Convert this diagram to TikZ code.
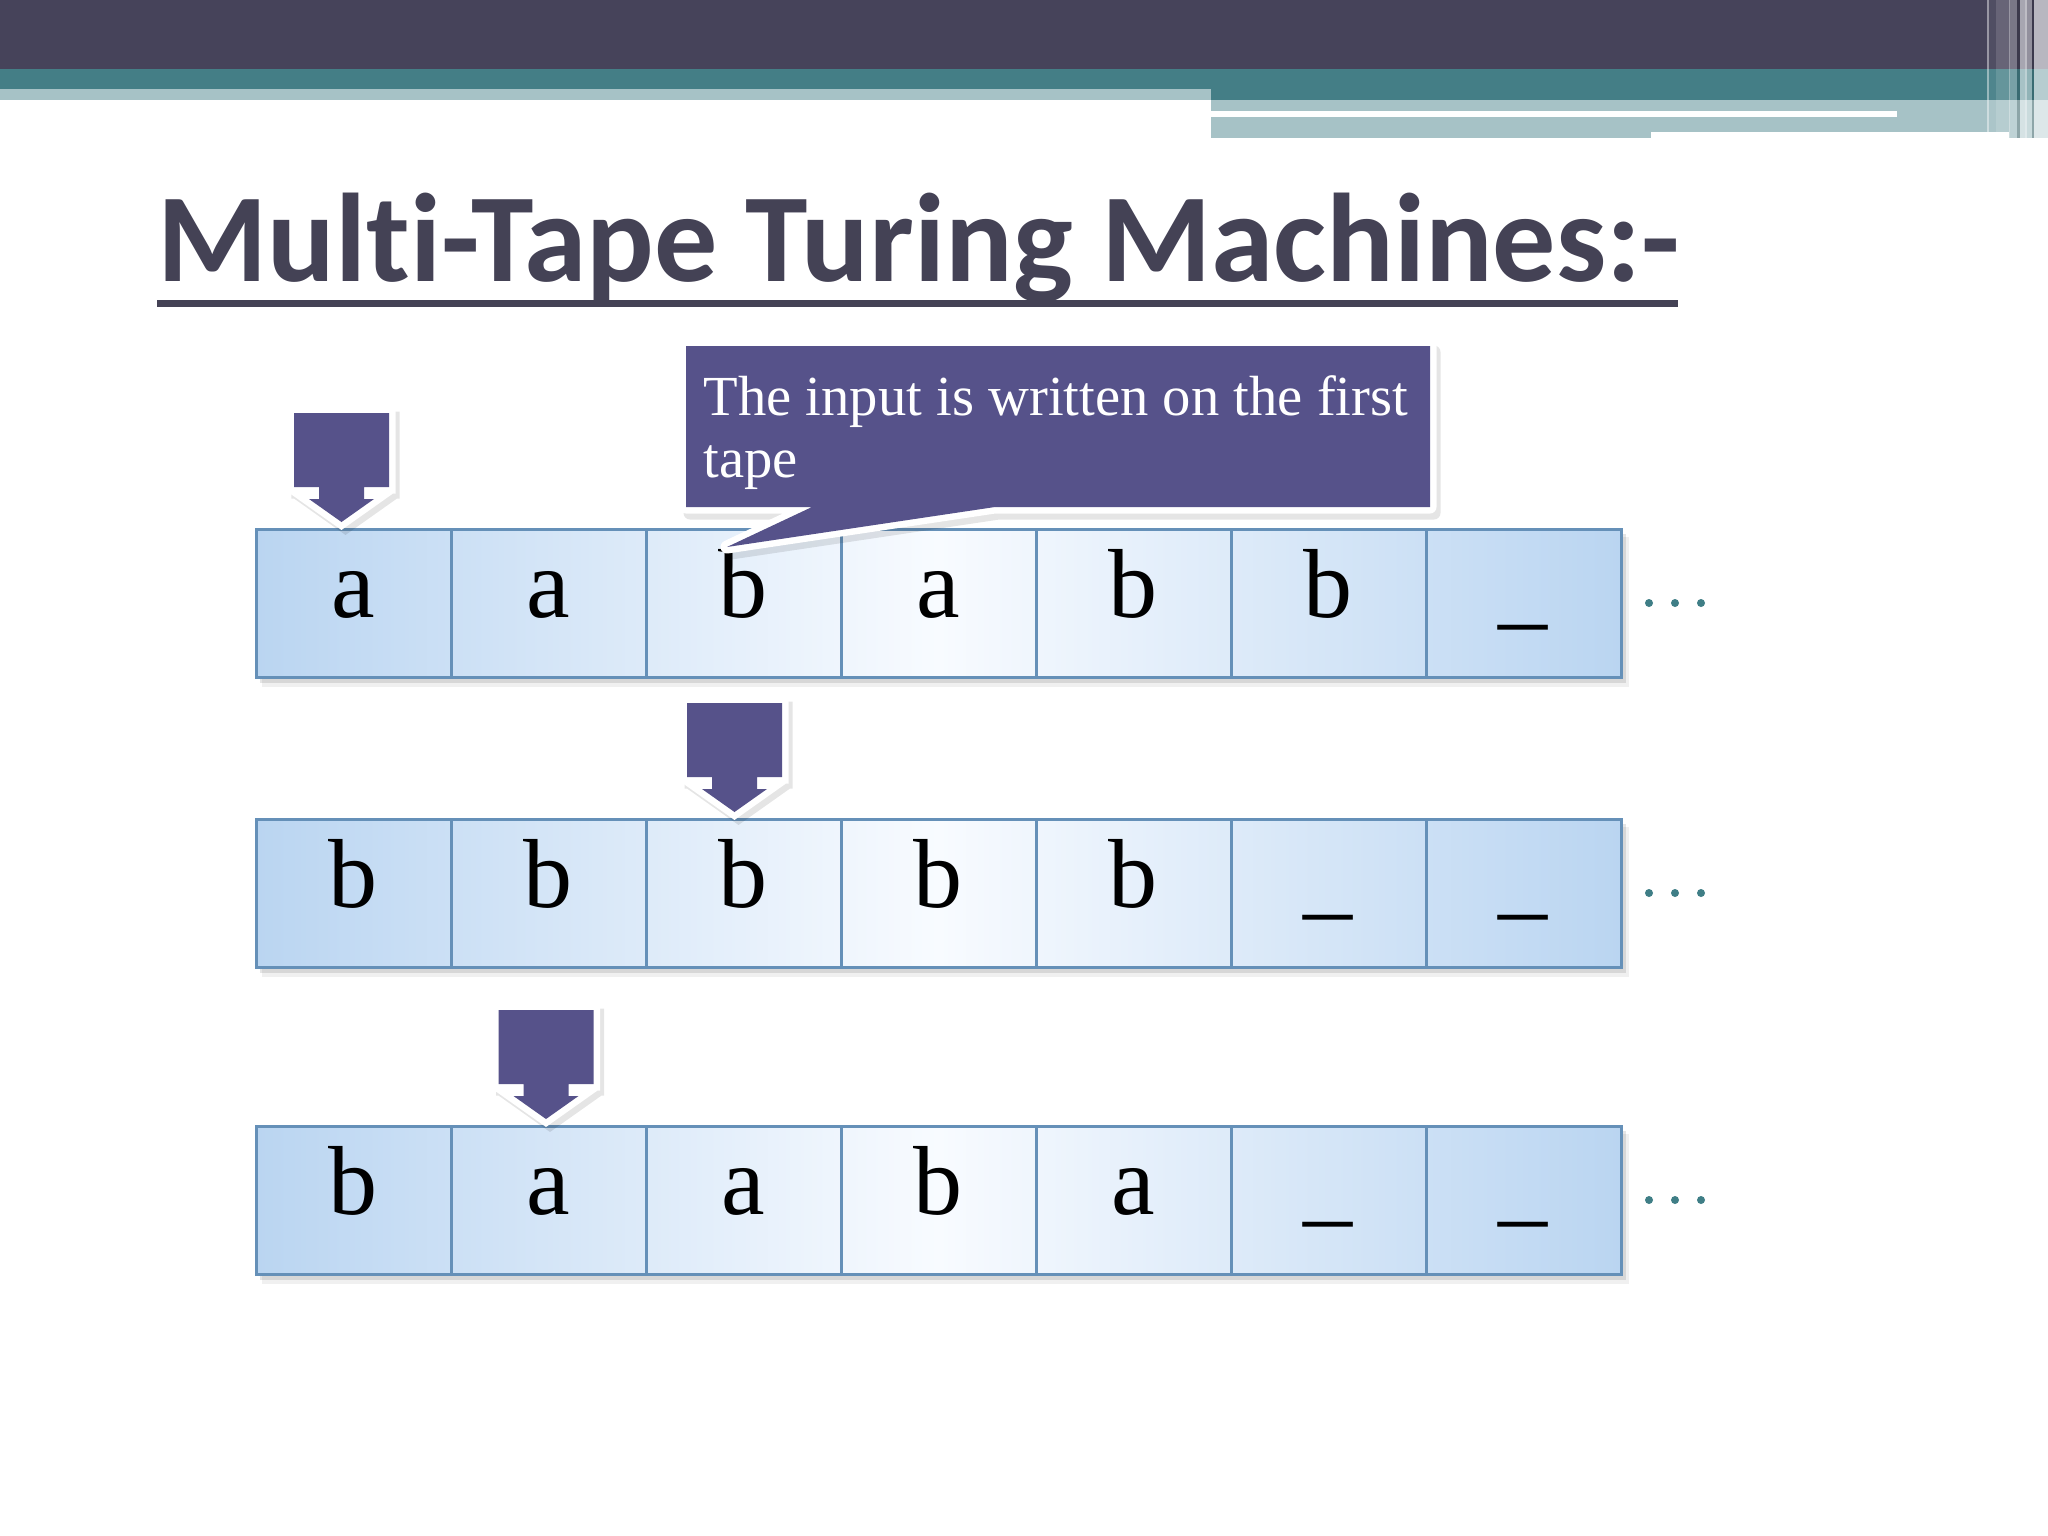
\documentclass[tikz,border=0pt]{standalone}
\usepackage{fontspec}
\setmainfont{Liberation Serif}
\newfontfamily\titlefont[RawFeature={-liga}]{Carlito}
\usetikzlibrary{calc}
\newdimen\pxu \pxu=0.28453pt
\definecolor{bandDark}{HTML}{46435A}
\definecolor{bandTeal}{HTML}{447E86}
\definecolor{bandLight}{HTML}{A6C2C6}
\definecolor{titleCol}{HTML}{444255}
\definecolor{headCol}{HTML}{56528A}
\definecolor{tapeBlue}{HTML}{BAD5F1}
\definecolor{tapeWhite}{HTML}{F8FBFF}
\definecolor{tapeLine}{HTML}{6590B8}
\definecolor{dotCol}{HTML}{3F7E86}
\tikzset{
  sym/.style={anchor=base, inner sep=0pt, font=\fontsize{27.9}{30}\selectfont},
  tapeborder/.style={draw=tapeLine, line width=3\pxu},
  headoutline/.style={draw=white, line width=13\pxu, line join=miter},
  headfill/.style={fill=headCol},
  softshadow/.style={draw=black, line width=13\pxu, opacity=0.10},
  calltxt/.style={anchor=base west, inner sep=0pt, text=white, font=\fontsize{16.1}{16.5}\selectfont},
}
\begin{document}
\begin{tikzpicture}[x=0.01cm,y=-0.01cm]
\useasboundingbox (0,0) rectangle (2048,1536);
\fill[white] (0,0) rectangle (2048,1536);
% ---- banner ----
\fill[bandDark] (0,0) rectangle (2048,69);
\fill[bandTeal] (0,69) rectangle (1211,89);
\fill[bandTeal] (1211,69) rectangle (2048,100);
\fill[bandLight] (0,89) rectangle (1211,100);
\fill[bandLight] (1211,100) rectangle (2048,138);
\fill[white] (1211,111) rectangle (1897,117);
\fill[white] (1651,132) rectangle (2009,138);
% vertical stripes
\fill[white, opacity=0.45] (1987,0) rectangle (1989,132);
\fill[white, opacity=0.06] (1989,0) rectangle (1996,132);
\fill[white, opacity=0.18] (1996,0) rectangle (2009,132);
\fill[white, opacity=0.45] (2009,0) rectangle (2010,138);
\fill[white, opacity=0.28] (2010,0) rectangle (2017,138);
\fill[black, opacity=0.15] (2017,0) rectangle (2020,138);
\fill[white, opacity=0.53] (2020,0) rectangle (2025,138);
\fill[white, opacity=0.65] (2025,0) rectangle (2027,138);
\fill[white, opacity=0.41] (2027,0) rectangle (2032,138);
\fill[black, opacity=0.15] (2032,0) rectangle (2034,138);
\fill[white, opacity=0.62] (2034,0) rectangle (2048,138);
% ---- title ----
\node[anchor=base west, inner sep=0pt, text=titleCol] (title) at (157,281)
  {\resizebox{1521\pxu}{!}{\titlefont\bfseries Multi-Tape Turing Machines:-}};
\fill[titleCol] (157,300) rectangle (1678,307);
% ---- tapes ----
\foreach \ty/\syms [count=\t] in {529/{a,a,b,a,b,b,\_}, 819/{b,b,b,b,b,\_,\_}, 1126/{b,a,a,b,a,\_,\_}}{
  \fill[black, opacity=0.06] (262,\ty+8) rectangle (1629,\ty+158);
  \fill[black, opacity=0.10] (260,\ty+5) rectangle (1626,\ty+154);
  \shade[left color=tapeBlue, right color=tapeBlue, middle color=tapeWhite] (256,\ty) rectangle (1621,\ty+148);
  \foreach \k in {1,...,6}{
    \draw[tapeborder] ({256+195*\k},\ty) -- ({256+195*\k},\ty+148);
  }
  \draw[tapeborder] (256,\ty) rectangle (1621,\ty+148);
  \foreach \s [count=\k] in \syms {
    \node[sym] (t\t c\k) at ({256+195*\k-97.5},\ty+88) {\s};
  }
  \foreach \dx in {1649,1675,1701}{
    \fill[dotCol] (\dx,\ty+74) circle (4);
  }
}
% ---- heads ----
\foreach \cx/\hy in {341.5/413, 734.5/703, 546/1010}{
  \def\headpath{(\cx-47.5,\hy) -- (\cx+47.5,\hy) -- (\cx+47.5,\hy+74) -- (\cx+22.5,\hy+74) -- (\cx+22.5,\hy+86) -- (\cx+32.5,\hy+86) -- (\cx,\hy+109) -- (\cx-32.5,\hy+86) -- (\cx-22.5,\hy+86) -- (\cx-22.5,\hy+74) -- (\cx-47.5,\hy+74) -- cycle}
  \draw[softshadow, shift={(4,5)}] \headpath;
  \draw[headoutline] \headpath;
  \fill[headfill] \headpath;
}
% ---- callout ----
\def\callpath{(686,346) -- (1430,346) -- (1430,507) -- (995,507) -- (727,547) -- (812,507) -- (686,507) -- cycle}
\draw[softshadow, line join=round, shift={(4,6)}] \callpath;
\draw[headoutline, line join=round] \callpath;
\fill[headfill] \callpath;
\node[calltxt] (call1) at (703,415) {The input is written on the first};
\node[calltxt] (call2) at (703,477) {tape};
\end{tikzpicture}
\end{document}
